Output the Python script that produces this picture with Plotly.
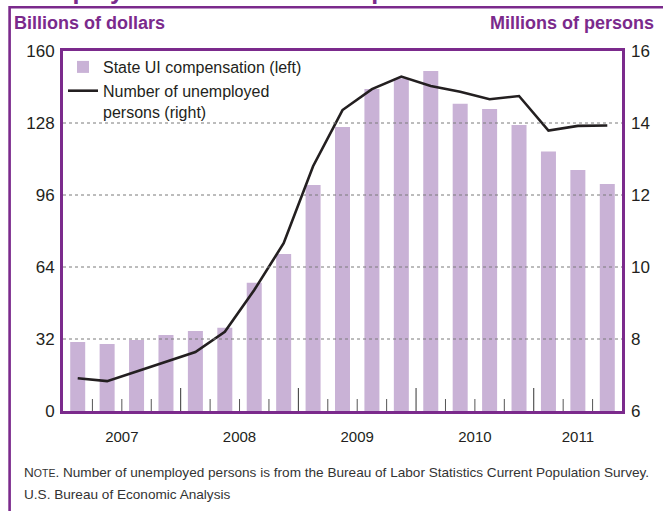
import numpy as np
import plotly.graph_objects as go

# Quarterly data, 2007Q1 - 2011Q3
quarters = ["2007Q1", "2007Q2", "2007Q3", "2007Q4",
            "2008Q1", "2008Q2", "2008Q3", "2008Q4",
            "2009Q1", "2009Q2", "2009Q3", "2009Q4",
            "2010Q1", "2010Q2", "2010Q3", "2010Q4",
            "2011Q1", "2011Q2", "2011Q3"]
ui_compensation = [30.7, 29.8, 31.6, 33.8, 35.6, 37.0, 57.0, 69.8,
                   100.4, 126.2, 143.1, 147.9, 151.1, 136.6, 134.2, 127.1,
                   115.3, 107.1, 100.9]          # billions of dollars
unemployed = [6.91, 6.83, 7.10, 7.36, 7.64, 8.20, 9.36, 10.66,
              12.80, 14.36, 14.94, 15.29, 15.03, 14.87, 14.66, 14.75,
              13.79, 13.92, 13.93]               # millions of persons

left_ticks = [0, 32, 64, 96, 128, 160]
right_ticks = [6, 8, 10, 12, 14, 16]
years = ["2007", "2008", "2009", "2010", "2011"]

PURPLE = "#7b2a8c"
BAR = "#c9b2d6"
INK = "#231f20"
FONT = "Liberation Sans, Arial, sans-serif"

# plot area in pixels
W, H = 663, 511
L, R, T, B = 63, 41, 51, 100
PW, PH = W - L - R, H - T - B


def px_x(px):
    return (px - L) / PW


def px_y(py):
    return (H - B - py) / PH


x = np.arange(len(quarters))
year_of = [q[:4] for q in quarters]
year_mid = [float(np.mean([i for i, y in enumerate(year_of) if y == yr])) for yr in years]

fig = go.Figure()
fig.add_trace(go.Bar(
    x=x, y=ui_compensation, name="State UI compensation (left)",
    marker=dict(color=BAR, line=dict(width=0)), width=0.51,
    hovertext=quarters, yaxis="y",
))
fig.add_trace(go.Scatter(
    x=x, y=unemployed, name="Number of unemployed<br>persons (right)",
    mode="lines", line=dict(color=INK, width=2.6),
    hovertext=quarters, yaxis="y2",
))

shapes = []
# dotted gridlines drawn over the bars
for v in left_ticks[1:-1]:
    shapes.append(dict(type="line", xref="paper", yref="y", x0=0, x1=1, y0=v, y1=v,
                       line=dict(color="#7a7a7a", width=1, dash="dot"), layer="above"))
# quarter ticks inside the bottom edge, longer at year boundaries
for i in range(len(quarters) - 1):
    new_year = year_of[i] != year_of[i + 1]
    shapes.append(dict(type="line", xref="x", yref="paper", x0=i + 0.5, x1=i + 0.5,
                       y0=0, y1=(23 if new_year else 12) / PH,
                       line=dict(color="#333333" if new_year else "#555555", width=1),
                       layer="above"))
# outer panel frame
shapes.append(dict(type="path", xref="paper", yref="paper",
                   path=f"M {px_x(9.6)} {px_y(530)} L {px_x(9.6)} {px_y(7.3)} L {px_x(680)} {px_y(7.3)}",
                   line=dict(color=PURPLE, width=2.6), layer="above"))

annotations = [
    # panel heading, running above the top edge of the page
    dict(text="<b>Unemployment Insurance Compensation and Number of Unemployed Persons</b>",
         xref="paper", yref="paper", x=px_x(0.5), y=px_y(-9.8), xanchor="left",
         yanchor="middle", showarrow=False,
         font=dict(family=FONT, size=25, color=PURPLE)),
    dict(text="<b>Billions of dollars</b>", xref="paper", yref="paper",
         x=px_x(12), y=px_y(23), xanchor="left", yanchor="middle", showarrow=False,
         font=dict(family=FONT, size=18, color=PURPLE)),
    dict(text="<b>Millions of persons</b>", xref="paper", yref="paper",
         x=px_x(656), y=px_y(23), xanchor="right", yanchor="middle", showarrow=False,
         font=dict(family=FONT, size=18, color=PURPLE)),
    dict(text="N<span style='font-size:10.5px'>OTE</span>. Number of unemployed persons is from the "
              "Bureau of Labor Statistics Current Population Survey.",
         xref="paper", yref="paper", x=px_x(22), y=px_y(472), xanchor="left",
         yanchor="middle", showarrow=False, font=dict(family=FONT, size=13.6, color="#333333")),
    dict(text="U.S. Bureau of Economic Analysis",
         xref="paper", yref="paper", x=px_x(22), y=px_y(494), xanchor="left",
         yanchor="middle", showarrow=False, font=dict(family=FONT, size=13.6, color="#333333")),
]

fig.update_layout(
    width=W, height=H,
    margin=dict(l=L, r=R, t=T, b=B, pad=0),
    paper_bgcolor="white", plot_bgcolor="white",
    font=dict(family=FONT, color=INK),
    showlegend=True,
    legend=dict(x=px_x(63), y=px_y(50), xanchor="left", yanchor="top",
                bgcolor="rgba(0,0,0,0)", font=dict(family=FONT, size=16, color=INK),
                valign="top", tracegroupgap=0, itemwidth=30),
    xaxis=dict(range=[-0.5, len(quarters) - 0.5], tickmode="array",
               tickvals=year_mid, ticktext=years, ticks="", showgrid=False,
               zeroline=False, showline=True, mirror=True, linecolor=PURPLE,
               linewidth=3, layer="above traces", ticklabelstandoff=10,
               tickfont=dict(family=FONT, size=15, color=INK)),
    yaxis=dict(range=[0, 160], tickmode="array", tickvals=left_ticks, ticks="",
               showgrid=False, zeroline=False, showline=True, mirror=True,
               linecolor=PURPLE, linewidth=3, layer="above traces",
               ticklabelstandoff=2, tickfont=dict(family=FONT, size=17, color=INK)),
    yaxis2=dict(range=[6, 16], tickmode="array", tickvals=right_ticks, ticks="",
                overlaying="y", side="right", showgrid=False, zeroline=False,
                ticklabelstandoff=8, tickfont=dict(family=FONT, size=17, color=INK)),
    shapes=shapes,
    annotations=annotations,
    bargap=0.49,
)

fig.write_html("out.html")
